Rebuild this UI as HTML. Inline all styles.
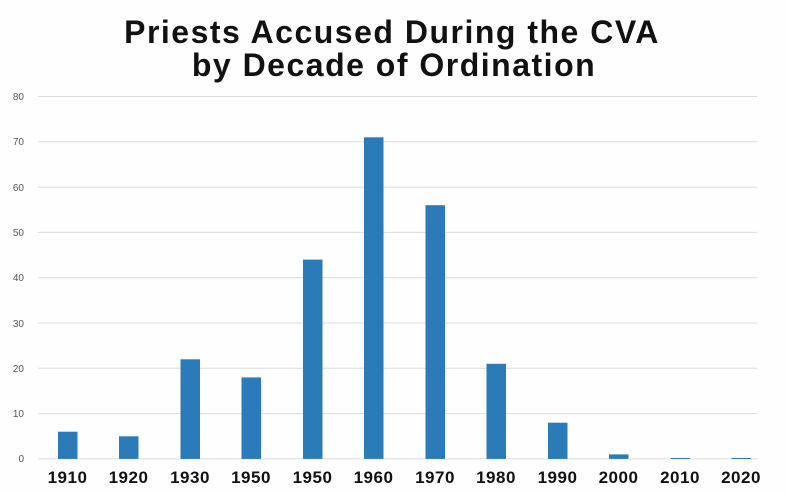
<!DOCTYPE html>
<html><head><style>
body{margin:0;background:#fff;}
svg{display:block;}
</style></head><body>
<svg width="786" height="493" xmlns="http://www.w3.org/2000/svg" font-family="Liberation Sans, sans-serif">
<rect width="786" height="493" fill="#fefefe"/>
<text x="392" y="43" text-anchor="middle" font-size="32" font-weight="bold" fill="#111" letter-spacing="1.5">Priests Accused During the CVA</text>
<text x="394" y="76" text-anchor="middle" font-size="32" font-weight="bold" fill="#111" letter-spacing="1.5">by Decade of Ordination</text>
<g stroke="#dcdcdc" stroke-width="1">
<line x1="38" x2="757" y1="96.5" y2="96.5"/>
<line x1="38" x2="757" y1="141.8" y2="141.8"/>
<line x1="38" x2="757" y1="187.1" y2="187.1"/>
<line x1="38" x2="757" y1="232.4" y2="232.4"/>
<line x1="38" x2="757" y1="277.7" y2="277.7"/>
<line x1="38" x2="757" y1="323" y2="323"/>
<line x1="38" x2="757" y1="368.3" y2="368.3"/>
<line x1="38" x2="757" y1="413.6" y2="413.6"/>
<line x1="38" x2="757" y1="458.9" y2="458.9"/>
</g>
<g font-size="10" fill="#555" text-anchor="end">
<text x="24" y="100">80</text><text x="24" y="145">70</text><text x="24" y="191">60</text>
<text x="24" y="236">50</text><text x="24" y="281">40</text><text x="24" y="327">30</text>
<text x="24" y="372">20</text><text x="24" y="417">10</text><text x="24" y="462">0</text>
</g>
<g fill="#2b7bb9">
<rect x="58" y="431.7" width="19.5" height="27.2"/>
<rect x="119" y="436.3" width="19.5" height="22.6"/>
<rect x="180.5" y="359.3" width="19.5" height="99.6"/>
<rect x="241.5" y="377.4" width="19.5" height="81.5"/>
<rect x="303" y="259.6" width="19.5" height="199.3"/>
<rect x="364" y="137.3" width="19.5" height="321.6"/>
<rect x="425.5" y="205.2" width="19.5" height="253.7"/>
<rect x="486.5" y="363.8" width="19.5" height="95.1"/>
<rect x="548" y="422.7" width="19.5" height="36.2"/>
<rect x="609" y="454.4" width="19.5" height="4.5"/>
<rect x="670.5" y="458" width="19.5" height="1"/>
<rect x="731.5" y="458" width="19.5" height="1"/>
</g>
<g font-size="17" font-weight="bold" fill="#111" text-anchor="middle" letter-spacing="0.5">
<text x="67.5" y="483">1910</text><text x="128.5" y="483">1920</text><text x="190" y="483">1930</text>
<text x="251" y="483">1950</text><text x="312.5" y="483">1950</text><text x="373.5" y="483">1960</text>
<text x="435" y="483">1970</text><text x="496" y="483">1980</text><text x="557.5" y="483">1990</text>
<text x="618.5" y="483">2000</text><text x="680" y="483">2010</text><text x="741" y="483">2020</text>
</g>
</svg>
</body></html>
